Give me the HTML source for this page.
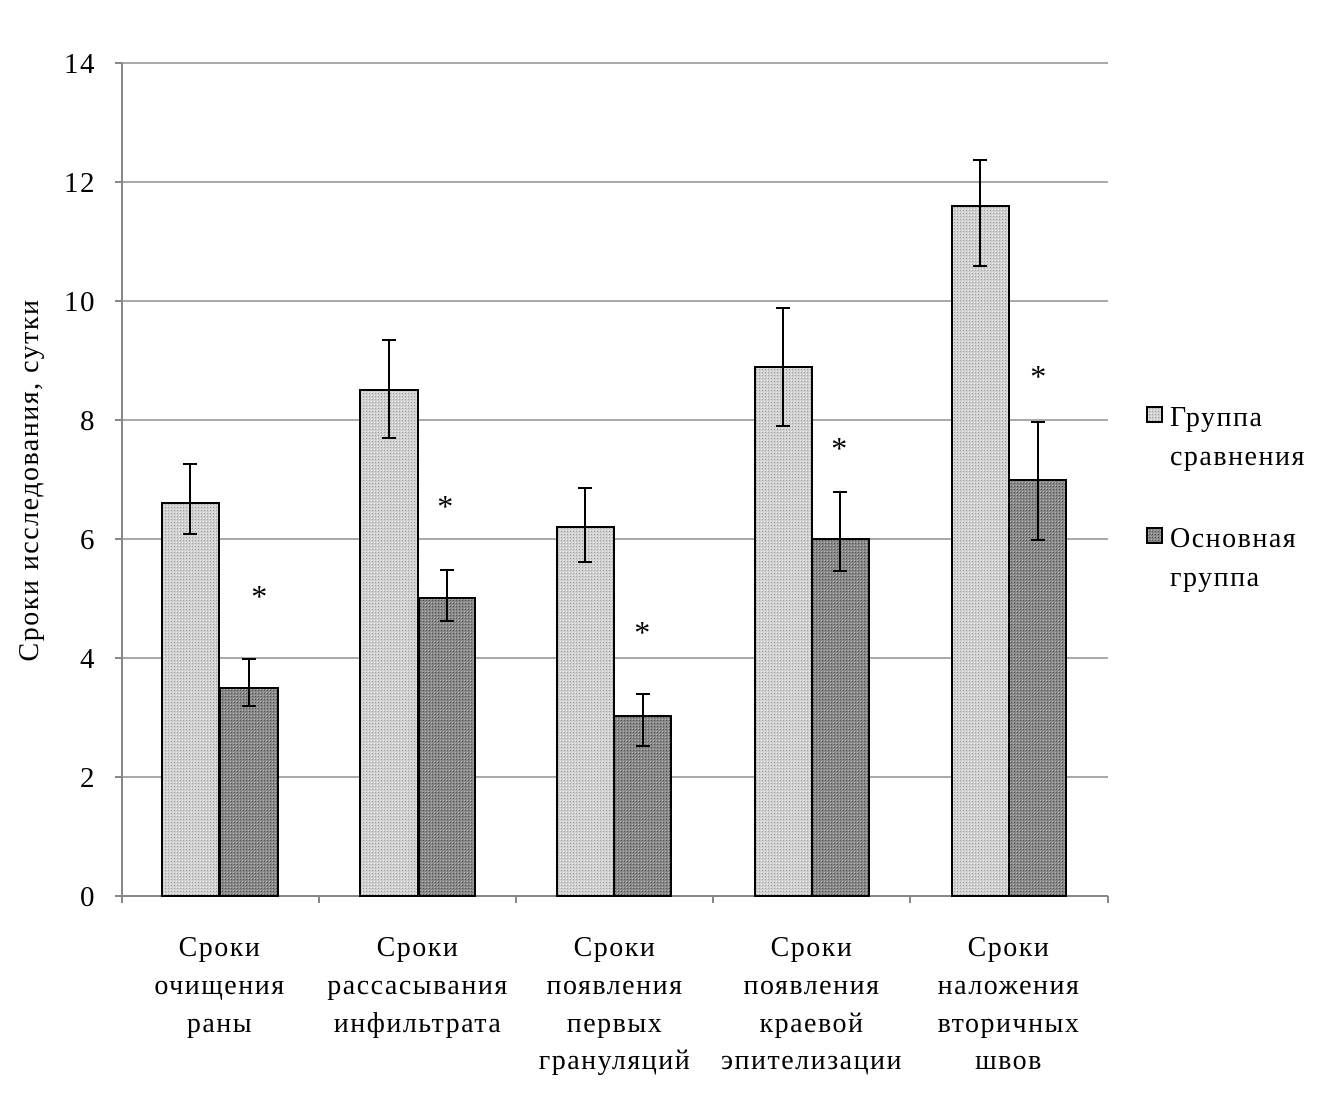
<!DOCTYPE html>
<html><head><meta charset="utf-8"><style>body{margin:0;background:#fff}svg{display:block}text{font-family:"Liberation Serif",serif;fill:#000;letter-spacing:1.5px}</style></head><body>
<svg width="1321" height="1103" viewBox="0 0 1321 1103">
<defs>
<pattern id="pl" width="3" height="3" patternUnits="userSpaceOnUse"><rect width="3" height="3" fill="#d0d0d0"/><rect width="1" height="1" fill="#a0a0a0"/><rect x="2" y="2" width="1" height="1" fill="#ececec"/></pattern>
<pattern id="pd" width="3" height="3" patternUnits="userSpaceOnUse"><rect width="3" height="3" fill="#888"/><rect width="1" height="1" fill="#505050"/><rect x="2" y="2" width="1" height="1" fill="#b5b5b5"/></pattern>
</defs>
<g stroke="#aaa" stroke-width="2">
<line x1="122" y1="63" x2="1108" y2="63"/><line x1="122" y1="182" x2="1108" y2="182"/><line x1="122" y1="301" x2="1108" y2="301"/><line x1="122" y1="420" x2="1108" y2="420"/><line x1="122" y1="539" x2="1108" y2="539"/><line x1="122" y1="658" x2="1108" y2="658"/><line x1="122" y1="777" x2="1108" y2="777"/>
</g>
<g stroke="#888" stroke-width="2">
<line x1="122" y1="63" x2="122" y2="903"/><line x1="115" y1="896" x2="1108" y2="896"/>
<line x1="115" y1="63" x2="122" y2="63"/><line x1="115" y1="182" x2="122" y2="182"/><line x1="115" y1="301" x2="122" y2="301"/><line x1="115" y1="420" x2="122" y2="420"/><line x1="115" y1="539" x2="122" y2="539"/><line x1="115" y1="658" x2="122" y2="658"/><line x1="115" y1="777" x2="122" y2="777"/>
<line x1="319" y1="896" x2="319" y2="903"/><line x1="516" y1="896" x2="516" y2="903"/><line x1="713" y1="896" x2="713" y2="903"/><line x1="910" y1="896" x2="910" y2="903"/><line x1="1108" y1="896" x2="1108" y2="903"/>
</g>
<g stroke="#000" stroke-width="2">
<rect x="162" y="503" width="57" height="393" fill="url(#pl)"/><rect x="220" y="688" width="58" height="208" fill="url(#pd)"/>
<rect x="360" y="390" width="58" height="506" fill="url(#pl)"/><rect x="419" y="598" width="56" height="298" fill="url(#pd)"/>
<rect x="557" y="527" width="57" height="369" fill="url(#pl)"/><rect x="614" y="716" width="57" height="180" fill="url(#pd)"/>
<rect x="755" y="367" width="57" height="529" fill="url(#pl)"/><rect x="812" y="539" width="57" height="357" fill="url(#pd)"/>
<rect x="952" y="206" width="57" height="690" fill="url(#pl)"/><rect x="1009" y="480" width="57" height="416" fill="url(#pd)"/>
</g>
<g stroke="#000" stroke-width="2">
<path d="M190 464V534M183 464H197M183 534H197"/>
<path d="M249 659V706M242 659H256M242 706H256"/>
<path d="M389 340V438M382 340H396M382 438H396"/>
<path d="M447 570V621M440 570H454M440 621H454"/>
<path d="M585 488V562M578 488H592M578 562H592"/>
<path d="M643 694V746M636 694H650M636 746H650"/>
<path d="M783 308V426M776 308H790M776 426H790"/>
<path d="M840 492V571M833 492H847M833 571H847"/>
<path d="M980 160V266M973 160H987M973 266H987"/>
<path d="M1038 422V540M1031 422H1045M1031 540H1045"/>
</g>
<g font-size="32" text-anchor="middle">
<text x="260" y="607">*</text><text x="446" y="517">*</text><text x="643" y="643">*</text><text x="840" y="459">*</text><text x="1039" y="387">*</text>
</g>
<g font-size="29" text-anchor="end">
<text x="96" y="73">14</text><text x="96" y="192">12</text><text x="96" y="311">10</text><text x="96" y="430">8</text><text x="96" y="549">6</text><text x="96" y="668">4</text><text x="96" y="787">2</text><text x="96" y="906">0</text>
</g>
<text font-size="28" text-anchor="middle" transform="translate(38,480) rotate(-90)">Сроки исследования, сутки</text>
<g font-size="28" text-anchor="middle">
<text x="220" y="956">Сроки</text><text x="220" y="994">очищения</text><text x="220" y="1032">раны</text>
<text x="418" y="956">Сроки</text><text x="418" y="994">рассасывания</text><text x="418" y="1032">инфильтрата</text>
<text x="615" y="956">Сроки</text><text x="615" y="994">появления</text><text x="615" y="1032">первых</text><text x="615" y="1069">грануляций</text>
<text x="812" y="956">Сроки</text><text x="812" y="994">появления</text><text x="812" y="1032">краевой</text><text x="812" y="1069">эпителизации</text>
<text x="1009" y="956">Сроки</text><text x="1009" y="994">наложения</text><text x="1009" y="1032">вторичных</text><text x="1009" y="1069">швов</text>
</g>
<rect x="1147" y="407" width="15" height="15" fill="url(#pl)" stroke="#000" stroke-width="2"/>
<rect x="1147" y="528" width="15" height="15" fill="url(#pd)" stroke="#000" stroke-width="2"/>
<g font-size="28">
<text x="1170" y="426">Группа</text><text x="1170" y="465">сравнения</text>
<text x="1170" y="547">Основная</text><text x="1170" y="586">группа</text>
</g>
</svg>
</body></html>
